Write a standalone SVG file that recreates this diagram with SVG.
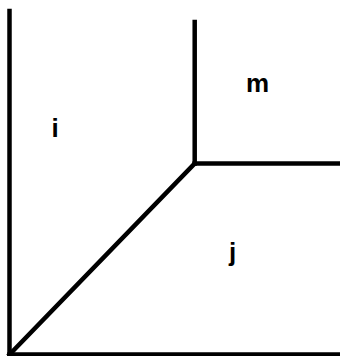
<svg xmlns="http://www.w3.org/2000/svg" width="340" height="356" viewBox="0 0 340 356">
<style>
.ln{stroke:#000;stroke-width:4.5;fill:none;stroke-linecap:square}
.lb{font-family:"Liberation Sans",Arial,sans-serif;font-weight:bold;font-size:26px;fill:#000}
</style>
<rect width="340" height="356" fill="#fff"/>
<g id="connectors">
<line class="ln" x1="9.5" y1="11" x2="9.5" y2="354.5"/>
<line class="ln" x1="9.5" y1="354.5" x2="342" y2="354.5"/>
<line class="ln" x1="9.5" y1="354.5" x2="194.7" y2="163.5"/>
<line class="ln" x1="194.7" y1="22" x2="194.7" y2="163.5"/>
<line class="ln" x1="194.7" y1="163.5" x2="342" y2="163.5"/>
</g>
<g id="i"><text class="lb" x="51.5" y="136.5">i</text></g>
<g id="m"><text class="lb" x="246" y="91.7">m</text></g>
<g id="j"><text class="lb" x="229" y="261">j</text></g>
</svg>
